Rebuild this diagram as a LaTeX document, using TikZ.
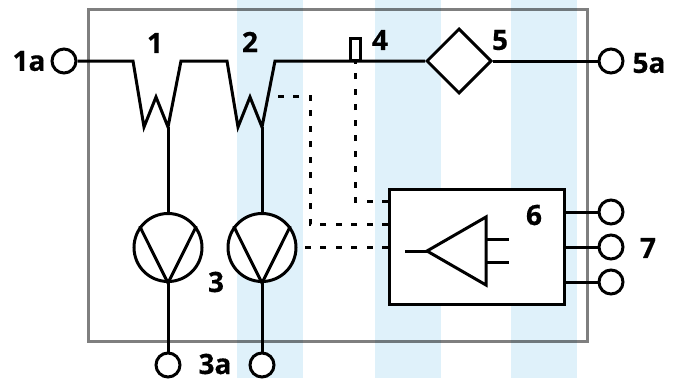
\documentclass[tikz,border=0pt]{standalone}
\usepackage{fontspec}
\setmainfont{Open Sans}[BoldFeatures={FakeBold=0.5}]
\usetikzlibrary{shapes.geometric}
\definecolor{stripeblue}{HTML}{DFF1FA}
\tikzset{
    wire/.style={line width=3pt, line join=miter},
    signal/.style={line width=3pt, dash pattern=on 6pt off 9.5pt},
    terminal/.style={circle, draw, fill=white, line width=3pt, minimum size=24pt, inner sep=0pt},
    pump/.style={circle, draw, fill=white, line width=3pt, minimum size=68pt, inner sep=0pt},
    label/.style={font=\bfseries\fontsize{28}{28}\selectfont, inner sep=0pt},
}

\begin{document}
\begin{tikzpicture}[x=1pt, y=-1pt]
    \useasboundingbox (0, 0) rectangle (675, 378);

    % Stripes and frame
    \fill[stripeblue] (237, 0) rectangle (303, 378);
    \fill[stripeblue] (375, 0) rectangle (441, 378);
    \fill[stripeblue] (511, 0) rectangle (577, 378);
    \draw[line width=3pt, black, draw opacity=0.5] (88, 9) rectangle (587, 341);

    % Terminals
    \node[terminal] (t1a) at (64, 61) {};
    \node[terminal] (t5a) at (611, 61) {};
    \node[terminal] (t3a) at (168, 365) {};
    \node[terminal] (t3b) at (262, 365) {};
    \node[terminal] (t7a) at (611, 212) {};
    \node[terminal] (t7b) at (611, 247) {};
    \node[terminal] (t7c) at (611, 282) {};

    % Current transformers
    \coordinate (coila) at (168, 127);
    \coordinate (coilb) at (262, 127);
    \coordinate (tapb) at (269, 96);
    \node[diamond, draw, fill=white, line width=3pt, minimum size=65pt, inner sep=0pt] (valve) at (459, 61) {};
    \draw[wire] (t1a.east) -- (133, 61) -- (144, 127) -- (156, 97) -- (coila) -- (181, 61)
        -- (227, 61) -- (238, 127) -- (250, 97) -- (coilb) -- (275, 61) -- (valve.west);
    \draw[wire] (valve.east) -- (t5a.west);
    \node[draw, fill=white, line width=3pt, minimum width=10pt, minimum height=22pt, inner sep=0pt] (sensor) at (355, 49.5) {};

    % Pumps
    \node[pump] (pumpa) at (168, 247.5) {};
    \node[pump] (pumpb) at (262, 247.5) {};
    \foreach \p in {pumpa, pumpb} {
        \draw[wire] (\p.143) -- (\p.south) -- (\p.37);
    }
    \draw[wire] (coila) -- (pumpa.north);
    \draw[wire] (coilb) -- (pumpb.north);
    \draw[wire] (pumpa.south) -- (t3a.north);
    \draw[wire] (pumpb.south) -- (t3b.north);

    % Controller
    \node[draw, fill=white, line width=3pt, minimum width=175pt, minimum height=115pt, inner sep=0pt] (ctrl) at (477, 247) {};
    \coordinate (ampin) at (405, 251);
    \coordinate (apex) at (427, 251);
    \coordinate (ampa) at (486, 239);
    \coordinate (ampb) at (486, 262);
    \draw[wire] (ampin) -- (apex);
    \draw[wire] (apex) -- (486, 217) -- (486, 285) -- cycle;
    \draw[wire] (ampa) -- (509, 239);
    \draw[wire] (ampb) -- (509, 262);
    \draw[wire] (t7a.west) -- (ctrl.east |- t7a.west);
    \draw[wire] (t7b.west) -- (ctrl.east |- t7b.west);
    \draw[wire] (t7c.west) -- (ctrl.east |- t7c.west);

    % Signal lines
    \draw[signal] (ctrl.west |- 355, 201) -- (355, 201) -- (sensor.south);
    \draw[signal] (ctrl.west |- 310, 224) -- (310, 224) -- (310, 96) -- (tapb);
    \draw[signal] (ctrl.west |- pumpb.east) -- (pumpb.east);

    % Labels
    \node[label] (l1a) at (29, 61) {1a};
    \node[label] (l1) at (155, 43) {1};
    \node[label] (l2) at (250, 42) {2};
    \node[label] (l3) at (216, 282) {3};
    \node[label] (l3a) at (215, 364) {3a};
    \node[label] (l4) at (380, 40) {4};
    \node[label] (l5) at (500, 40) {5};
    \node[label] (l5a) at (649, 63) {5a};
    \node[label] (l6) at (534, 215) {6};
    \node[label] (l7) at (648, 248) {7};
\end{tikzpicture}
\end{document}
